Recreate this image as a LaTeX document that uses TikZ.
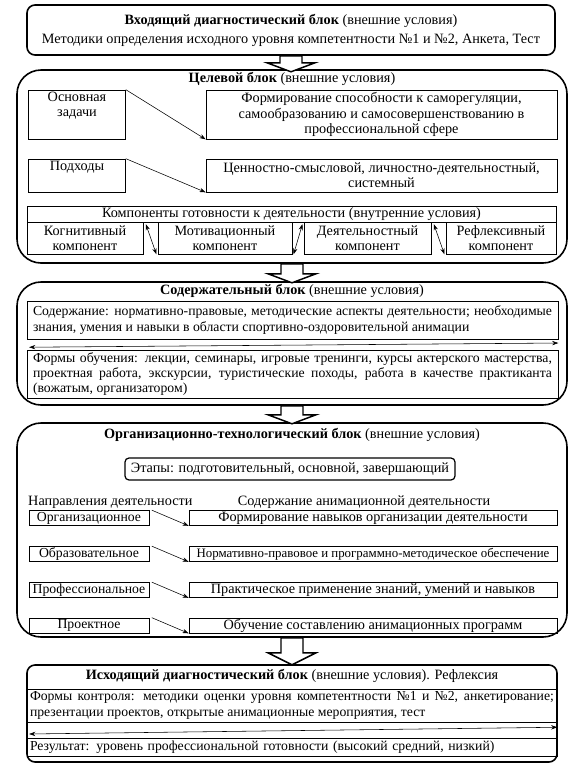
\documentclass[tikz,border=0pt]{standalone}
\usepackage{fontspec}
\setmainfont{Liberation Serif}
\usetikzlibrary{arrows.meta,calc}

\newlength\pxu
\setlength\pxu{0.815pt}

\tikzset{
  blok/.style={draw, line width=1.3pt, rounded corners=8\pxu, inner sep=0pt, align=center},
  bigblok/.style={blok, rounded corners=24\pxu},
  box/.style={draw, line width=0.55pt, inner sep=0pt, align=center},
  txt/.style={inner sep=0pt, align=center},
  small/.style={font=\fontsize{11.2}{12.4}\selectfont},
  lnk/.style={-{Stealth[length=5pt,width=3.5pt]}, line width=0.45pt},
  dlnk/.style={{Stealth[length=5pt,width=3.5pt]}-{Stealth[length=5pt,width=3.5pt]}, line width=0.45pt},
  blockarrow/.style={draw, line width=1.2pt, fill=white}
}

\begin{document}
\begin{tikzpicture}[x=0.815pt, y=-0.815pt, font=\fontsize{11.6}{12.4}\selectfont]
    \useasboundingbox (0,0) rectangle (581,769);

    % Входящий диагностический блок
    \node[blok, minimum width=528\pxu, minimum height=50\pxu] (vhod) at (291,30)
        {\textbf{Входящий диагностический блок} (внешние условия)\\[3pt]
         Методики определения исходного уровня компетентности №1 и №2, Анкета, Тест};

    % Целевой блок
    \node[bigblok, minimum width=550\pxu, minimum height=193\pxu] (celev) at (292,166.5) {};
    \node[txt, anchor=north] (celevT) at ([yshift=-2pt]celev.north) {\textbf{Целевой блок} (внешние условия)};
    \node[box, minimum width=97\pxu, minimum height=49\pxu] (zad) at (77,114.5) {Основная\\задачи\\\strut};
    \node[box, minimum width=351\pxu, minimum height=49\pxu] (zadT) at (381.5,114.5)
        {Формирование способности к саморегуляции,\\самообразованию и самосовершенствованию в\\профессиональной сфере};
    \node[box, minimum width=97\pxu, minimum height=33\pxu] (podh) at (77,175.5) {Подходы\\\strut};
    \node[box, minimum width=351\pxu, minimum height=33\pxu] (podhT) at (381.5,175.5)
        {Ценностно-смысловой, личностно-деятельностный,\\системный};
    \node[box, minimum width=529\pxu, minimum height=16\pxu] (komp) at (291.5,214)
        {Компоненты готовности к деятельности (внутренние условия)};
    \node[box, minimum width=116\pxu, minimum height=32\pxu] (kog) at (85,238) {Когнитивный\\компонент};
    \node[box, minimum width=134\pxu, minimum height=32\pxu] (mot) at (225,238) {Мотивационный\\компонент};
    \node[box, minimum width=127\pxu, minimum height=32\pxu] (deyat) at (367.5,238) {Деятельностный\\компонент};
    \node[box, minimum width=110\pxu, minimum height=32\pxu] (refl) at (501,238) {Рефлексивный\\компонент};

    \draw[lnk] (zad.north east) -- (zadT.south west);
    \draw[lnk] (podh.north east) -- (podhT.south west);
    \draw[dlnk] ([xshift=2pt,yshift=-2pt]kog.north east) -- ([xshift=-1pt]mot.south west);
    \draw[dlnk] ([xshift=1pt]mot.south east) -- ([xshift=-1pt,yshift=-2pt]deyat.north west);
    \draw[dlnk] ([xshift=2pt,yshift=-2pt]deyat.north east) -- ([xshift=-1pt]refl.south west);

    % Содержательный блок
    \node[bigblok, minimum width=550\pxu, minimum height=123\pxu] (sod) at (292,343.5) {};
    \node[txt, anchor=north] (sodT) at ([yshift=-2pt]sod.north) {\textbf{Содержательный блок} (внешние условия)};
    \node[box, small, minimum width=531\pxu, minimum height=38\pxu, text width=519\pxu, align=justify] (sodB) at (292.5,320)
        {Содержание: нормативно-правовые, методические аспекты деятельности; необходимые\linebreak
         знания, умения и навыки в области спортивно-оздоровительной анимации};
    \node[box, small, minimum width=531\pxu, minimum height=48\pxu, text width=519\pxu, align=justify] (formB) at (292.5,374)
        {Формы обучения: лекции, семинары, игровые тренинги, курсы актерского мастерства,\linebreak
         проектная работа, экскурсии, туристические походы, работа в качестве практиканта\linebreak
         (вожатым, организатором)};
    \draw[dlnk] ([xshift=2pt,yshift=2pt]formB.north west) -- ([yshift=-3pt]sodB.south east);

    % Организационно-технологический блок
    \node[bigblok, minimum width=550\pxu, minimum height=214\pxu] (org) at (292,530) {};
    \node[txt, anchor=north] (orgT) at ([yshift=-5pt]org.north) {\textbf{Организационно-технологический блок} (внешние условия)};
    \node[blok, line width=1pt, rounded corners=4\pxu, minimum width=330\pxu, minimum height=22\pxu] (etap) at (290,469)
        {Этапы: подготовительный, основной, завершающий};
    \node[txt, anchor=west] (napr) at (28,502) {Направления деятельности};
    \node[txt] (soder) at (364,502) {Содержание анимационной деятельности};

    \node[box, small, minimum width=120\pxu, minimum height=15\pxu] (r1) at (89,518) {Организационное};
    \node[box, minimum width=368\pxu, minimum height=15\pxu] (r1T) at (373,518) {Формирование навыков организации деятельности};
    \node[box, small, minimum width=120\pxu, minimum height=15\pxu] (r2) at (89,554) {Образовательное};
    \node[box, minimum width=368\pxu, minimum height=15\pxu, font=\fontsize{10.5}{12}\selectfont] (r2T) at (373,554) {Нормативно-правовое и программно-методическое обеспечение};
    \node[box, small, minimum width=120\pxu, minimum height=15\pxu] (r3) at (89,590) {Профессиональное};
    \node[box, minimum width=368\pxu, minimum height=15\pxu] (r3T) at (373,590) {Практическое применение знаний, умений и навыков};
    \node[box, small, minimum width=120\pxu, minimum height=15\pxu] (r4) at (89,625.5) {Проектное};
    \node[box, minimum width=368\pxu, minimum height=15\pxu] (r4T) at (373,625.5) {Обучение составлению анимационных программ};

    \draw[lnk] ([xshift=2pt]r1.north east) -- (r1T.south west);
    \draw[lnk] ([xshift=2pt]r2.north east) -- (r2T.south west);
    \draw[lnk] ([xshift=2pt]r3.north east) -- (r3T.south west);
    \draw[lnk] ([xshift=2pt]r4.north east) -- (r4T.south west);

    % Исходящий диагностический блок
    \node[blok, minimum width=530\pxu, minimum height=97\pxu] (ishod) at (292,713.5) {};
    \node[txt, anchor=north] (ishodT) at ([yshift=-4pt]ishod.north) {\textbf{Исходящий диагностический блок} (внешние условия). Рефлексия};
    \node[box, small, minimum width=530\pxu, minimum height=33\pxu, text width=524\pxu, align=justify] (kontr) at (292,705.5)
        {Формы контроля: методики оценки уровня компетентности №1 и №2, анкетирование;\linebreak
         презентации проектов, открытые анимационные мероприятия, тест};
    \node[box, small, minimum width=530\pxu, minimum height=18\pxu, text width=524\pxu, align=left] (rez) at (292,747)
        {Результат: уровень профессиональной готовности (высокий средний, низкий)};
    \draw[dlnk] ([xshift=2pt,yshift=3pt]rez.north west) -- ([yshift=-4pt]kontr.south east);

    % стрелки между блоками
    \draw[blockarrow] (vhod.south) ++(-11,0) -- ++(0,7) -- ++(-13,0) -- ++(24,9) -- ++(24,-9) -- ++(-13,0) -- ++(0,-7) -- cycle;
    \draw[blockarrow] (celev.south) ++(-11,0) -- ++(0,10) -- ++(-13,0) -- ++(24,9) -- ++(24,-9) -- ++(-13,0) -- ++(0,-10) -- cycle;
    \draw[blockarrow] (sod.south) ++(-11,0) -- ++(0,9) -- ++(-13,0) -- ++(24,9) -- ++(24,-9) -- ++(-13,0) -- ++(0,-9) -- cycle;
    \draw[blockarrow] (org.south) ++(-11,0) -- ++(0,15) -- ++(-13,0) -- ++(24,12) -- ++(24,-12) -- ++(-13,0) -- ++(0,-15) -- cycle;
\end{tikzpicture}
\end{document}
